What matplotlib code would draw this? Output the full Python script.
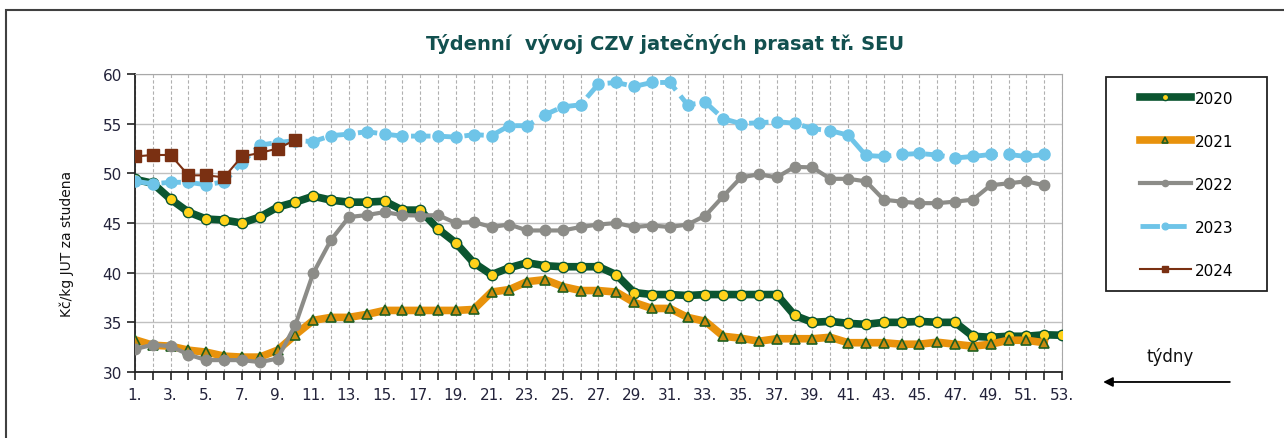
import matplotlib
matplotlib.use("Agg")
import matplotlib.pyplot as plt
from matplotlib.patches import Rectangle

# týdenní CZV jatečných prasat tř. SEU (Kč/kg JUT za studena)
weeks = list(range(1, 54))

y2020 = [49.4, 49.0, 47.4, 46.1, 45.4, 45.3, 45.0, 45.6, 46.6, 47.1,
         47.7, 47.3, 47.1, 47.1, 47.2, 46.3, 46.3, 44.4, 43.0, 41.0,
         39.8, 40.5, 41.0, 40.7, 40.6, 40.6, 40.6, 39.8, 38.0, 37.8,
         37.8, 37.7, 37.8, 37.8, 37.8, 37.8, 37.8, 35.7, 35.0, 35.1,
         34.9, 34.8, 35.0, 35.0, 35.1, 35.0, 35.0, 33.6, 33.5, 33.6,
         33.6, 33.75, 33.7]
y2021 = [33.25, 32.7, 32.6, 32.2, 32.0, 31.6, 31.5, 31.5, 32.2, 33.75,
         35.2, 35.5, 35.5, 35.8, 36.2, 36.2, 36.2, 36.2, 36.2, 36.3,
         38.05, 38.3, 39.1, 39.3, 38.6, 38.2, 38.2, 38.05, 37.0, 36.4,
         36.4, 35.5, 35.1, 33.6, 33.4, 33.1, 33.35, 33.35, 33.35, 33.5,
         32.95, 32.95, 32.95, 32.8, 32.8, 33.0, 32.8, 32.6, 32.8, 33.2,
         33.2, 32.95]
y2022 = [32.3, 32.75, 32.6, 31.75, 31.2, 31.2, 31.2, 31.0, 31.35, 34.75,
         39.95, 43.3, 45.6, 45.8, 46.1, 45.8, 45.75, 45.8, 45.0, 45.1,
         44.6, 44.85, 44.25, 44.25, 44.25, 44.6, 44.85, 45.0, 44.6, 44.75,
         44.6, 44.85, 45.75, 47.7, 49.6, 49.9, 49.6, 50.65, 50.6, 49.45,
         49.45, 49.2, 47.35, 47.15, 47.0, 47.0, 47.15, 47.35, 48.8, 49.0,
         49.2, 48.8]
y2023 = [49.2, 48.95, 49.1, 49.1, 48.85, 49.15, 51.05, 52.85, 53.1, 53.3,
         53.2, 53.8, 53.95, 54.2, 53.95, 53.75, 53.75, 53.75, 53.65, 53.9,
         53.8, 54.8, 54.8, 55.9, 56.7, 56.9, 59.0, 59.15, 58.75, 59.15,
         59.15, 56.9, 57.15, 55.5, 55.0, 55.1, 55.2, 55.05, 54.5, 54.3,
         53.85, 51.8, 51.7, 51.9, 52.0, 51.85, 51.55, 51.7, 51.9, 51.9,
         51.7, 51.9]
y2024 = [51.7, 51.85, 51.85, 49.8, 49.8, 49.6, 51.7, 52.05, 52.5, 53.35]

x_labels = [f"{w}." if w % 2 == 1 else "" for w in weeks]

fig = plt.figure(figsize=(12.84, 4.39), dpi=100)
ax = fig.add_axes([0.1051, 0.1503, 0.722, 0.6788])

ax.plot(weeks[:len(y2020)], y2020, color="#0b5530", lw=5.5, marker="o",
        ms=7.5, mfc="#ffd21a", mec="#0b5530", mew=1, label="2020", zorder=3)
ax.plot(weeks[:len(y2021)], y2021, color="#e8920c", lw=5.5, marker="^",
        ms=7, mfc="#c88a10", mec="#1f5f1f", mew=1.2, label="2021", zorder=4)
ax.plot(weeks[:len(y2022)], y2022, color="#8c8c88", lw=3, marker="o",
        ms=7.5, mfc="#8c8c88", mec="#8c8c88", label="2022", zorder=5)
ax.plot(weeks[:len(y2023)], y2023, color="#6ec4e8", lw=3.5, ls=(0, (4, 1.5)),
        marker="o", ms=8, mfc="#6ec4e8", mec="#6ec4e8", label="2023", zorder=6)
ax.plot(weeks[:len(y2024)], y2024, color="#7a3012", lw=1.5, marker="s",
        ms=8, mfc="#7a3012", mec="#7a3012", label="2024", zorder=7)

ax.set_xlim(1, 53)
ax.set_ylim(30, 60)
ax.set_xticks(weeks)
ax.set_xticklabels(x_labels)
ax.set_yticks(range(30, 61, 5))
ax.tick_params(axis="both", direction="out", length=6, width=1.2,
               labelsize=11, labelcolor="#22223a", color="#222222")
ax.tick_params(axis="x", pad=5)

ax.grid(axis="y", color="#c0c0c0", lw=1, zorder=0)
ax.grid(axis="x", color="#b0b0b0", lw=0.8, ls=(0, (3, 2)), zorder=0)
ax.set_axisbelow(True)
for side in ("top", "right"):
    ax.spines[side].set_color("#a8a8a8")
for side in ("left", "bottom"):
    ax.spines[side].set_color("#222222")
    ax.spines[side].set_linewidth(1.3)

fig.text(0.052, 0.444, "Kč/kg JUT za studena", rotation=90, fontsize=10,
         ha="center", va="center", color="#111111")
fig.text(0.518, 0.900, "Týdenní  vývoj CZV jatečných prasat tř. SEU",
         fontsize=14, fontweight="bold", color="#12504f", ha="center", va="center")

# legenda bez vlastniho ramecku, ramecek zvlast
leg = fig.legend(loc="upper left", bbox_to_anchor=(0.888, 0.791), frameon=False,
                 fontsize=11, handlelength=3.3, labelspacing=1.83, borderpad=0,
                 borderaxespad=0, handletextpad=0.3, markerscale=0.6)
fig.patches.append(Rectangle((1106 / 1284, 1 - 292 / 439), 161 / 1284, 214 / 439,
                             transform=fig.transFigure, fill=False,
                             edgecolor="#222222", lw=1.3, figure=fig))

fig.text(0.911, 0.187, "týdny", fontsize=12, ha="center", va="center", color="#111111")
fig.patches.append(Rectangle((0.0047, -0.05), 1.1, 1.025, transform=fig.transFigure,
                             fill=False, edgecolor="#404040", lw=1.5, figure=fig))
ax.annotate("", xy=(0.857, 0.1276), xytext=(0.960, 0.1276), xycoords="figure fraction",
            arrowprops=dict(arrowstyle="-|>", color="black", lw=1.3, mutation_scale=14))

fig.savefig("out.png", dpi=100)
